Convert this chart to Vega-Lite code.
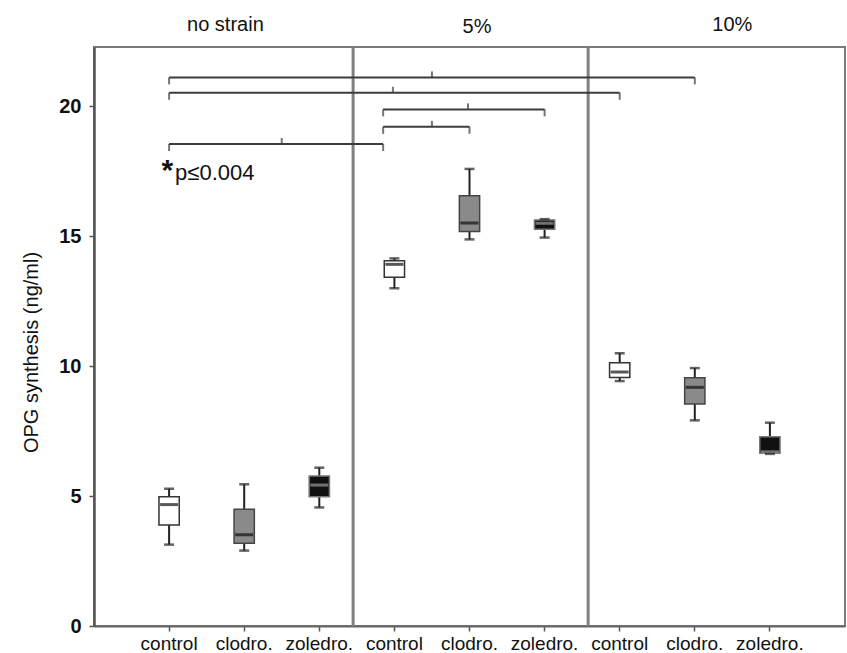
{
  "$schema": "https://vega.github.io/schema/vega-lite/v6.json",
  "width": 751,
  "height": 579,
  "autosize": {"type": "none"},
  "padding": {"left": 94, "top": 47, "right": 2, "bottom": 27},
  "background": "#ffffff",
  "config": {
    "font": "Liberation Sans",
    "view": {"stroke": "#7a7a7a", "strokeWidth": 2},
    "scale": {"bandPaddingInner": 0, "bandPaddingOuter": 0.5},
    "axis": {"grid": false}
  },
  "datasets": {
    "boxes": [
      {"cat": "ns|control", "drug": "control", "lo": 3.13, "q1": 3.88, "med": 4.67, "q3": 4.97, "hi": 5.28},
      {"cat": "ns|clodro.", "drug": "clodro.", "lo": 2.9, "q1": 3.18, "med": 3.51, "q3": 4.49, "hi": 5.45},
      {"cat": "ns|zoledro.", "drug": "zoledro.", "lo": 4.56, "q1": 4.97, "med": 5.42, "q3": 5.77, "hi": 6.09},
      {"cat": "5|control", "drug": "control", "lo": 12.99, "q1": 13.41, "med": 13.91, "q3": 14.05, "hi": 14.14},
      {"cat": "5|clodro.", "drug": "clodro.", "lo": 14.87, "q1": 15.17, "med": 15.5, "q3": 16.55, "hi": 17.58},
      {"cat": "5|zoledro.", "drug": "zoledro.", "lo": 14.94, "q1": 15.26, "med": 15.49, "q3": 15.62, "hi": 15.65},
      {"cat": "10|control", "drug": "control", "lo": 9.42, "q1": 9.56, "med": 9.77, "q3": 10.13, "hi": 10.49},
      {"cat": "10|clodro.", "drug": "clodro.", "lo": 7.91, "q1": 8.54, "med": 9.18, "q3": 9.55, "hi": 9.92},
      {"cat": "10|zoledro.", "drug": "zoledro.", "lo": 6.62, "q1": 6.64, "med": 6.7, "q3": 7.28, "hi": 7.82}
    ],
    "brackets": [
      {"from": "ns|control", "to": "10|clodro.", "level": 21.1, "mid": "5|clodro.", "half": true},
      {"from": "ns|control", "to": "10|control", "level": 20.51, "mid": "5|control", "half": false},
      {"from": "5|control", "to": "ns|control", "level": 18.54, "mid": "ns|zoledro.", "half": true},
      {"from": "5|control", "to": "5|zoledro.", "level": 19.87, "mid": "5|clodro.", "half": false},
      {"from": "5|control", "to": "5|clodro.", "level": 19.2, "mid": "5|clodro.", "half": true}
    ]
  },
  "layer": [
    {
      "data": {"values": [{"c": "ns|zoledro."}]},
      "mark": {"type": "rule", "color": "#808080", "strokeWidth": 3},
      "encoding": {
        "x": {"field": "c", "type": "nominal", "bandPosition": 0.95, "title": null,
              "scale": {"type": "band", "domain": ["ns|control", "ns|clodro.", "ns|zoledro.", "5|control", "5|clodro.", "5|zoledro.", "10|control", "10|clodro.", "10|zoledro."]}}
      }
    },
    {
      "data": {"values": [{"c": "10|control"}]},
      "mark": {"type": "rule", "color": "#808080", "strokeWidth": 3},
      "encoding": {
        "x": {"field": "c", "type": "nominal", "bandPosition": 0.08, "title": null,
              "scale": {"type": "band", "domain": ["ns|control", "ns|clodro.", "ns|zoledro.", "5|control", "5|clodro.", "5|zoledro.", "10|control", "10|clodro.", "10|zoledro."]}}
      }
    },
    {
      "data": {"name": "brackets"},
      "transform": [{"filter": "datum.from == 'ns|control'"}],
      "mark": {"type": "rule", "color": "#3c3c3c", "strokeWidth": 2},
      "encoding": {
        "x": {"field": "from", "type": "nominal", "title": null,
              "scale": {"type": "band", "domain": ["ns|control", "ns|clodro.", "ns|zoledro.", "5|control", "5|clodro.", "5|zoledro.", "10|control", "10|clodro.", "10|zoledro."]}},
        "x2": {"field": "to"},
        "y": {"field": "level", "type": "quantitative", "scale": {"domain": [0, 22.27], "nice": false, "zero": false}}
      }
    },
    {
      "data": {"name": "brackets"},
      "transform": [{"filter": "datum.from == '5|control'"}],
      "mark": {"type": "rule", "color": "#3c3c3c", "strokeWidth": 2},
      "encoding": {
        "x": {"field": "from", "type": "nominal", "bandPosition": 0.35, "title": null,
              "scale": {"type": "band", "domain": ["ns|control", "ns|clodro.", "ns|zoledro.", "5|control", "5|clodro.", "5|zoledro.", "10|control", "10|clodro.", "10|zoledro."]}},
        "x2": {"field": "to"},
        "y": {"field": "level", "type": "quantitative", "scale": {"domain": [0, 22.27], "nice": false, "zero": false}}
      }
    },
    {
      "data": {"name": "brackets"},
      "transform": [{"fold": ["from", "to"], "as": ["end", "pos"]}, {"filter": "datum.pos != '5|control'"}],
      "mark": {"type": "tick", "orient": "vertical", "color": "#3c3c3c", "thickness": 2, "size": 7, "yOffset": 3.5},
      "encoding": {
        "x": {"field": "pos", "type": "nominal", "title": null,
              "scale": {"type": "band", "domain": ["ns|control", "ns|clodro.", "ns|zoledro.", "5|control", "5|clodro.", "5|zoledro.", "10|control", "10|clodro.", "10|zoledro."]}},
        "y": {"field": "level", "type": "quantitative", "scale": {"domain": [0, 22.27], "nice": false, "zero": false}}
      }
    },
    {
      "data": {"name": "brackets"},
      "transform": [{"fold": ["from", "to"], "as": ["end", "pos"]}, {"filter": "datum.pos == '5|control'"}],
      "mark": {"type": "tick", "orient": "vertical", "color": "#3c3c3c", "thickness": 2, "size": 7, "yOffset": 3.5},
      "encoding": {
        "x": {"field": "pos", "type": "nominal", "bandPosition": 0.35, "title": null,
              "scale": {"type": "band", "domain": ["ns|control", "ns|clodro.", "ns|zoledro.", "5|control", "5|clodro.", "5|zoledro.", "10|control", "10|clodro.", "10|zoledro."]}},
        "y": {"field": "level", "type": "quantitative", "scale": {"domain": [0, 22.27], "nice": false, "zero": false}}
      }
    },
    {
      "data": {"name": "brackets"},
      "transform": [{"filter": "!datum.half"}],
      "mark": {"type": "tick", "orient": "vertical", "color": "#3c3c3c", "thickness": 2, "size": 6, "yOffset": -3},
      "encoding": {
        "x": {"field": "mid", "type": "nominal", "bandPosition": 0.48, "title": null,
              "scale": {"type": "band", "domain": ["ns|control", "ns|clodro.", "ns|zoledro.", "5|control", "5|clodro.", "5|zoledro.", "10|control", "10|clodro.", "10|zoledro."]}},
        "y": {"field": "level", "type": "quantitative", "scale": {"domain": [0, 22.27], "nice": false, "zero": false}}
      }
    },
    {
      "data": {"name": "brackets"},
      "transform": [{"filter": "datum.half"}],
      "mark": {"type": "tick", "orient": "vertical", "color": "#3c3c3c", "thickness": 2, "size": 6, "yOffset": -3},
      "encoding": {
        "x": {"field": "mid", "type": "nominal", "bandPosition": 0, "title": null,
              "scale": {"type": "band", "domain": ["ns|control", "ns|clodro.", "ns|zoledro.", "5|control", "5|clodro.", "5|zoledro.", "10|control", "10|clodro.", "10|zoledro."]}},
        "y": {"field": "level", "type": "quantitative", "scale": {"domain": [0, 22.27], "nice": false, "zero": false}}
      }
    },
    {
      "data": {"name": "boxes"},
      "mark": {"type": "rule", "color": "#222222", "strokeWidth": 2},
      "encoding": {
        "x": {"field": "cat", "type": "nominal", "title": null,
              "scale": {"type": "band", "domain": ["ns|control", "ns|clodro.", "ns|zoledro.", "5|control", "5|clodro.", "5|zoledro.", "10|control", "10|clodro.", "10|zoledro."]},
              "axis": {"title": null, "labelExpr": "split(datum.value, '|')[1]", "labelAngle": 0, "labelAlign": "center", "labelBaseline": "top", "labelFontSize": 19, "labelColor": "#111111", "labelPadding": 3, "tickSize": 5, "tickColor": "#555555", "tickWidth": 1.5, "domainColor": "#666666", "domainWidth": 2}},
        "y": {"field": "lo", "type": "quantitative", "title": "OPG synthesis (ng/ml)",
              "scale": {"domain": [0, 22.27], "nice": false, "zero": false},
              "axis": {"values": [0, 5, 10, 15, 20], "labelFontSize": 20, "labelFontWeight": "bold", "labelColor": "#111111", "labelPadding": 8, "tickSize": 5, "tickColor": "#555555", "tickWidth": 1.5, "domainColor": "#555555", "domainWidth": 2.5, "titleFontSize": 20, "titleFontWeight": "normal", "titleColor": "#111111", "titlePadding": 17, "titleY": 305}},
        "y2": {"field": "hi"}
      }
    },
    {
      "data": {"name": "boxes"},
      "mark": {"type": "bar", "width": {"band": 0.27}, "strokeWidth": 1.5},
      "encoding": {
        "x": {"field": "cat", "type": "nominal", "title": null,
              "scale": {"type": "band", "domain": ["ns|control", "ns|clodro.", "ns|zoledro.", "5|control", "5|clodro.", "5|zoledro.", "10|control", "10|clodro.", "10|zoledro."]}},
        "y": {"field": "q1", "type": "quantitative", "scale": {"domain": [0, 22.27], "nice": false, "zero": false}},
        "y2": {"field": "q3"},
        "fill": {"field": "drug", "type": "nominal", "legend": null, "scale": {"domain": ["control", "clodro.", "zoledro."], "range": ["#ffffff", "#8a8a8a", "#111111"]}},
        "stroke": {"field": "drug", "type": "nominal", "legend": null, "scale": {"domain": ["control", "clodro.", "zoledro."], "range": ["#333333", "#444444", "#777777"]}}
      }
    },
    {
      "data": {"name": "boxes"},
      "mark": {"type": "tick", "size": 18, "thickness": 3},
      "encoding": {
        "x": {"field": "cat", "type": "nominal", "title": null,
              "scale": {"type": "band", "domain": ["ns|control", "ns|clodro.", "ns|zoledro.", "5|control", "5|clodro.", "5|zoledro.", "10|control", "10|clodro.", "10|zoledro."]}},
        "y": {"field": "med", "type": "quantitative", "scale": {"domain": [0, 22.27], "nice": false, "zero": false}},
        "color": {"field": "drug", "type": "nominal", "legend": null, "scale": {"domain": ["control", "clodro.", "zoledro."], "range": ["#111111", "#111111", "#9a9a9a"]}}
      }
    },
    {
      "data": {"name": "boxes"},
      "transform": [{"fold": ["lo", "hi"], "as": ["which", "val"]}],
      "mark": {"type": "tick", "size": 10, "thickness": 2.5, "color": "#222222"},
      "encoding": {
        "x": {"field": "cat", "type": "nominal", "title": null,
              "scale": {"type": "band", "domain": ["ns|control", "ns|clodro.", "ns|zoledro.", "5|control", "5|clodro.", "5|zoledro.", "10|control", "10|clodro.", "10|zoledro."]}},
        "y": {"field": "val", "type": "quantitative", "scale": {"domain": [0, 22.27], "nice": false, "zero": false}}
      }
    },
    {
      "data": {"values": [{"cat": "ns|control", "y": 17.15, "t": "*"}]},
      "mark": {"type": "text", "align": "right", "baseline": "alphabetic", "dx": 4, "fontSize": 30, "fontWeight": "bold", "color": "#111111"},
      "encoding": {
        "x": {"field": "cat", "type": "nominal", "title": null,
              "scale": {"type": "band", "domain": ["ns|control", "ns|clodro.", "ns|zoledro.", "5|control", "5|clodro.", "5|zoledro.", "10|control", "10|clodro.", "10|zoledro."]}},
        "y": {"field": "y", "type": "quantitative", "scale": {"domain": [0, 22.27], "nice": false, "zero": false}},
        "text": {"field": "t"}
      }
    },
    {
      "data": {"values": [{"cat": "ns|control", "y": 17.15, "t": "p≤0.004"}]},
      "mark": {"type": "text", "align": "left", "baseline": "alphabetic", "dx": 6, "fontSize": 22, "color": "#111111"},
      "encoding": {
        "x": {"field": "cat", "type": "nominal", "title": null,
              "scale": {"type": "band", "domain": ["ns|control", "ns|clodro.", "ns|zoledro.", "5|control", "5|clodro.", "5|zoledro.", "10|control", "10|clodro.", "10|zoledro."]}},
        "y": {"field": "y", "type": "quantitative", "scale": {"domain": [0, 22.27], "nice": false, "zero": false}},
        "text": {"field": "t"}
      }
    },
    {
      "data": {"values": [{"cat": "ns|clodro.", "y": 22.9, "t": "no strain"}]},
      "mark": {"type": "text", "align": "center", "baseline": "alphabetic", "fontSize": 20, "color": "#111111"},
      "encoding": {
        "x": {"field": "cat", "type": "nominal", "bandPosition": 0.25, "title": null,
              "scale": {"type": "band", "domain": ["ns|control", "ns|clodro.", "ns|zoledro.", "5|control", "5|clodro.", "5|zoledro.", "10|control", "10|clodro.", "10|zoledro."]}},
        "y": {"field": "y", "type": "quantitative", "scale": {"domain": [0, 22.27], "nice": false, "zero": false}},
        "text": {"field": "t"}
      }
    },
    {
      "data": {"values": [{"cat": "5|clodro.", "y": 22.8, "t": "5%"}]},
      "mark": {"type": "text", "align": "center", "baseline": "alphabetic", "fontSize": 20, "color": "#111111"},
      "encoding": {
        "x": {"field": "cat", "type": "nominal", "bandPosition": 0.6, "title": null,
              "scale": {"type": "band", "domain": ["ns|control", "ns|clodro.", "ns|zoledro.", "5|control", "5|clodro.", "5|zoledro.", "10|control", "10|clodro.", "10|zoledro."]}},
        "y": {"field": "y", "type": "quantitative", "scale": {"domain": [0, 22.27], "nice": false, "zero": false}},
        "text": {"field": "t"}
      }
    },
    {
      "data": {"values": [{"cat": "10|zoledro.", "y": 22.9, "t": "10%"}]},
      "mark": {"type": "text", "align": "center", "baseline": "alphabetic", "fontSize": 20, "color": "#111111"},
      "encoding": {
        "x": {"field": "cat", "type": "nominal", "bandPosition": 0, "title": null,
              "scale": {"type": "band", "domain": ["ns|control", "ns|clodro.", "ns|zoledro.", "5|control", "5|clodro.", "5|zoledro.", "10|control", "10|clodro.", "10|zoledro."]}},
        "y": {"field": "y", "type": "quantitative", "scale": {"domain": [0, 22.27], "nice": false, "zero": false}},
        "text": {"field": "t"}
      }
    }
  ]
}
